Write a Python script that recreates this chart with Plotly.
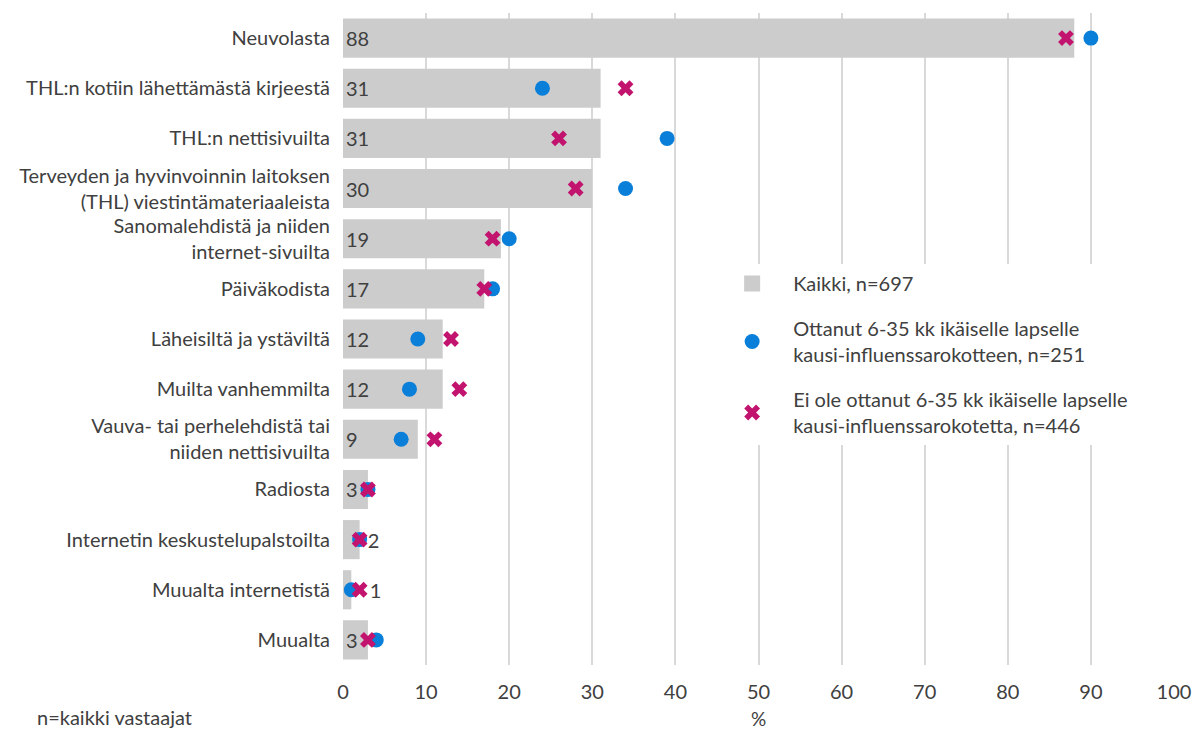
import plotly.graph_objects as go

categories = [
    "Neuvolasta",
    "THL:n kotiin lähettämästä kirjeestä",
    "THL:n nettisivuilta",
    "Terveyden ja hyvinvoinnin laitoksen<br>(THL) viestintämateriaaleista",
    "Sanomalehdistä ja niiden<br>internet-sivuilta",
    "Päiväkodista",
    "Läheisiltä ja ystäviltä",
    "Muilta vanhemmilta",
    "Vauva- tai perhelehdistä tai<br>niiden nettisivuilta",
    "Radiosta",
    "Internetin keskustelupalstoilta",
    "Muualta internetistä",
    "Muualta",
]
kaikki = [88, 31, 31, 30, 19, 17, 12, 12, 9, 3, 2, 1, 3]
ottanut = [90, 24, 39, 34, 20, 18, 9, 8, 7, 3, 2, 1, 4]
ei_ottanut = [87, 34, 26, 28, 18, 17, 13, 14, 11, 3, 2, 2, 3]
x_ticks = [0, 10, 20, 30, 40, 50, 60, 70, 80, 90, 100]

name_all = "Kaikki, n=697"
name_yes = "Ottanut 6-35 kk ikäiselle lapselle<br>kausi-influenssarokotteen, n=251"
name_no = "Ei ole ottanut 6-35 kk ikäiselle lapselle<br>kausi-influenssarokotetta, n=446"

FONT = "Lato"
FS = 20
TXT = "#404040"
GRAY = "#CCCCCC"
BLUE = "#0A7FD9"
MAG = "#C2136E"

NB = "\u00a0"
text_pos = ["outside" if v < 3 else "inside" for v in kaikki]
bar_text = []
for v in kaikki:
    if v == 1:
        bar_text.append(NB * 3 + str(v))
    elif v == 2:
        bar_text.append(NB + str(v))
    else:
        bar_text.append(str(v))

fig = go.Figure()
fig.add_trace(go.Bar(
    x=kaikki, y=categories, orientation="h",
    marker=dict(color=GRAY, line=dict(width=0)),
    text=bar_text, textposition=text_pos,
    insidetextanchor="start", constraintext="none",
    textfont=dict(family=FONT, size=FS, color=TXT),
    insidetextfont=dict(family=FONT, size=FS, color=TXT),
    outsidetextfont=dict(family=FONT, size=FS, color=TXT),
    cliponaxis=False, showlegend=False, name=name_all,
))
fig.add_trace(go.Scatter(
    x=[None], y=[None], mode="markers", name=name_all, legendgroup="a",
    marker=dict(symbol="square", size=22, color=GRAY),
))
fig.add_trace(go.Scatter(
    x=ottanut, y=categories, mode="markers", name=name_yes, legendgroup="b",
    marker=dict(symbol="circle", size=15, color=BLUE),
    cliponaxis=False,
))
fig.add_trace(go.Scatter(
    x=ei_ottanut, y=categories, mode="markers", name=name_no, legendgroup="c",
    marker=dict(symbol="x", size=14, color=MAG, line=dict(width=0)),
    cliponaxis=False,
))

fig.update_layout(
    width=1196, height=730,
    margin=dict(l=343, r=22, t=13, b=65),
    paper_bgcolor="white", plot_bgcolor="white",
    font=dict(family=FONT, size=FS, color=TXT),
    bargap=0.22,
    xaxis=dict(
        range=[0, 100], tickvals=x_ticks, showgrid=True, automargin=False,
        gridcolor="#D9D9D9", gridwidth=2, zeroline=False,
        showline=False, ticks="", ticklabelstandoff=13,
        tickfont=dict(family=FONT, size=FS, color=TXT),
        title=dict(text="%", font=dict(family=FONT, size=FS - 1, color=TXT), standoff=16),
    ),
    yaxis=dict(
        type="category", categoryorder="array", categoryarray=categories,
        range=[12.5, -0.5], showgrid=False, zeroline=False, showline=False,
        automargin=False, ticks="", ticklabelstandoff=12,
        tickfont=dict(family=FONT, size=FS, color=TXT),
    ),
    legend=dict(
        x=0.443, y=0.615, xanchor="left", yanchor="top",
        bgcolor="white", font=dict(family=FONT, size=FS, color=TXT),
        itemwidth=72, tracegroupgap=16,
    ),
    annotations=[dict(
        text="n=kaikki vastaajat", xref="paper", yref="paper",
        x=-0.371, y=-0.08, xanchor="left", yanchor="middle",
        showarrow=False, font=dict(family=FONT, size=FS, color=TXT),
    )],
)

fig.write_html(
    "out.html",
    config={"displayModeBar": False},
    post_script="document.body.style.margin='0';document.body.style.overflow='hidden';",
)
